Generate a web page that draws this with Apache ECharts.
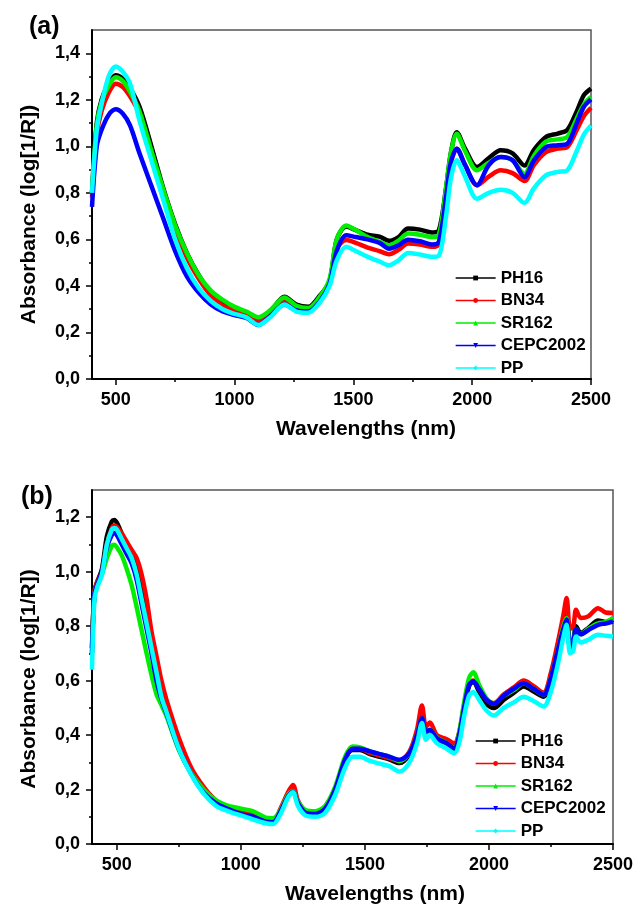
<!DOCTYPE html>
<html>
<head>
<meta charset="utf-8">
<script src="https://cdn.jsdelivr.net/npm/echarts@6/dist/echarts.min.js"></script>
<style>
html,body{margin:0;padding:0;background:#fff;}
#chart{width:644px;height:908px;}
</style>
</head>
<body>
<div id="chart"></div>
<script>
// ---------------- DATA ----------------
const SERIES_NAMES = ['PH16', 'BN34', 'SR162', 'CEPC2002', 'PP'];

// Panel (a)
const W_A = [400,420,440,470,500,530,560,600,650,700,750,800,850,900,950,1000,1050,1100,1150,1210,1260,1310,1360,1400,1430,1470,1510,1560,1610,1650,1690,1730,1780,1830,1860,1890,1910,1935,1970,2020,2070,2120,2170,2220,2260,2310,2360,2400,2440,2470,2500];
const PH16_A = [0.80,1.10,1.20,1.27,1.305,1.29,1.25,1.17,1.00,0.82,0.665,0.54,0.445,0.37,0.335,0.305,0.285,0.26,0.29,0.353,0.32,0.31,0.36,0.42,0.60,0.655,0.64,0.62,0.612,0.594,0.61,0.647,0.642,0.63,0.64,0.82,0.97,1.061,0.99,0.911,0.95,0.983,0.97,0.918,0.985,1.04,1.055,1.07,1.15,1.22,1.248];
const BN34_A = [0.78,1.05,1.15,1.23,1.269,1.255,1.215,1.14,0.97,0.80,0.645,0.52,0.43,0.36,0.315,0.295,0.28,0.248,0.28,0.335,0.305,0.295,0.345,0.42,0.56,0.597,0.585,0.565,0.55,0.536,0.555,0.582,0.578,0.568,0.58,0.78,0.93,0.99,0.92,0.833,0.87,0.897,0.885,0.851,0.92,0.975,0.99,0.997,1.07,1.13,1.166];
const SR162_A = [0.80,1.09,1.19,1.26,1.297,1.28,1.235,1.15,0.98,0.815,0.66,0.54,0.445,0.38,0.34,0.31,0.29,0.265,0.295,0.35,0.315,0.305,0.355,0.43,0.60,0.66,0.64,0.61,0.59,0.575,0.595,0.625,0.62,0.61,0.62,0.82,0.97,1.054,0.98,0.897,0.93,0.954,0.94,0.882,0.96,1.02,1.03,1.04,1.12,1.18,1.212];
const CEPC2002_A = [0.74,1.00,1.07,1.135,1.159,1.14,1.09,0.97,0.83,0.69,0.55,0.44,0.37,0.32,0.29,0.275,0.262,0.232,0.27,0.32,0.295,0.29,0.335,0.41,0.55,0.618,0.61,0.60,0.585,0.56,0.575,0.599,0.592,0.578,0.59,0.78,0.93,0.99,0.92,0.833,0.92,0.954,0.94,0.868,0.94,0.997,1.005,1.011,1.10,1.17,1.202];
const PP_A = [0.80,1.07,1.18,1.30,1.343,1.32,1.27,1.11,0.94,0.77,0.60,0.475,0.39,0.335,0.30,0.28,0.265,0.232,0.265,0.32,0.29,0.285,0.33,0.40,0.51,0.568,0.55,0.525,0.505,0.489,0.51,0.542,0.535,0.525,0.53,0.70,0.86,0.94,0.87,0.775,0.80,0.813,0.80,0.757,0.82,0.875,0.89,0.897,0.98,1.05,1.09];

// Panel (b)
const W_B = [400,410,420,440,460,480,490,500,520,540,560,580,600,620,640,660,680,700,750,800,850,900,950,1000,1050,1100,1130,1160,1190,1210,1230,1260,1300,1340,1380,1420,1450,1480,1520,1560,1600,1640,1680,1710,1730,1746,1762,1790,1830,1860,1880,1900,1920,1937,1960,1990,2020,2060,2100,2140,2180,2220,2250,2280,2300,2313,2327,2340,2351,2370,2400,2440,2470,2500];
const PH16_B = [0.72,0.93,0.96,1.01,1.13,1.185,1.19,1.18,1.14,1.10,1.06,1.01,0.93,0.84,0.76,0.66,0.57,0.51,0.37,0.27,0.20,0.155,0.13,0.115,0.105,0.085,0.082,0.12,0.175,0.195,0.15,0.115,0.11,0.13,0.20,0.31,0.345,0.345,0.33,0.32,0.31,0.297,0.33,0.40,0.462,0.41,0.418,0.385,0.37,0.35,0.40,0.50,0.58,0.597,0.56,0.515,0.499,0.53,0.555,0.578,0.56,0.541,0.60,0.71,0.79,0.846,0.73,0.75,0.80,0.775,0.793,0.821,0.815,0.824];
const BN34_B = [0.72,0.93,0.96,1.00,1.10,1.16,1.17,1.165,1.14,1.11,1.08,1.05,0.99,0.90,0.78,0.69,0.60,0.53,0.39,0.28,0.21,0.16,0.135,0.12,0.11,0.09,0.085,0.13,0.19,0.217,0.16,0.12,0.112,0.13,0.20,0.31,0.35,0.35,0.335,0.325,0.315,0.305,0.34,0.42,0.509,0.43,0.446,0.40,0.385,0.37,0.41,0.51,0.59,0.60,0.57,0.53,0.517,0.55,0.575,0.60,0.58,0.556,0.63,0.75,0.84,0.903,0.79,0.80,0.86,0.83,0.836,0.866,0.85,0.848];
const SR162_B = [0.70,0.92,0.95,0.99,1.05,1.095,1.099,1.09,1.06,1.01,0.95,0.87,0.785,0.70,0.62,0.55,0.51,0.47,0.345,0.26,0.20,0.16,0.14,0.13,0.12,0.097,0.095,0.125,0.18,0.195,0.155,0.125,0.12,0.14,0.21,0.32,0.358,0.355,0.34,0.33,0.32,0.305,0.335,0.40,0.46,0.41,0.42,0.39,0.37,0.35,0.41,0.52,0.61,0.631,0.585,0.535,0.517,0.545,0.565,0.59,0.57,0.548,0.61,0.72,0.80,0.83,0.72,0.74,0.79,0.77,0.79,0.81,0.815,0.83];
const CEPC2002_B = [0.70,0.92,0.95,1.00,1.09,1.135,1.142,1.135,1.10,1.065,1.03,0.97,0.88,0.79,0.70,0.60,0.532,0.48,0.35,0.257,0.188,0.149,0.128,0.11,0.10,0.082,0.08,0.12,0.175,0.192,0.15,0.115,0.11,0.13,0.20,0.31,0.35,0.35,0.34,0.33,0.32,0.309,0.335,0.40,0.462,0.413,0.419,0.388,0.37,0.351,0.40,0.50,0.585,0.597,0.57,0.53,0.515,0.545,0.57,0.59,0.57,0.548,0.61,0.72,0.79,0.824,0.72,0.74,0.79,0.77,0.785,0.805,0.81,0.817];
const PP_B = [0.64,0.90,0.94,0.99,1.10,1.155,1.16,1.155,1.12,1.085,1.05,0.99,0.90,0.81,0.72,0.63,0.54,0.485,0.35,0.255,0.185,0.14,0.12,0.105,0.09,0.076,0.073,0.11,0.17,0.19,0.14,0.105,0.10,0.115,0.18,0.28,0.32,0.32,0.305,0.295,0.285,0.266,0.30,0.37,0.444,0.382,0.40,0.37,0.35,0.333,0.37,0.47,0.545,0.558,0.53,0.49,0.472,0.50,0.52,0.541,0.525,0.505,0.56,0.67,0.76,0.805,0.70,0.71,0.762,0.74,0.75,0.768,0.765,0.762];

// Tick values
const X_TICKS = [500, 1000, 1500, 2000, 2500];
const X_MINOR = [750, 1250, 1750, 2250];
const Y_TICKS_A = [0, 0.2, 0.4, 0.6, 0.8, 1.0, 1.2, 1.4];
const Y_MINOR_A = [0.1, 0.3, 0.5, 0.7, 0.9, 1.1, 1.3];
const Y_TICKS_B = [0, 0.2, 0.4, 0.6, 0.8, 1.0, 1.2];
const Y_MINOR_B = [0.1, 0.3, 0.5, 0.7, 0.9, 1.1];

// ---------------- STYLE ----------------
const COLORS = ['#000000', '#ff0000', '#00ee00', '#0000ff', '#00ffff'];
const SYMBOLS = ['rect', 'circle', 'triangle', 'triangle', 'diamond'];
const ROTS = [0, 0, 0, 180, 0];
const FONT = '"Liberation Sans", Arial, sans-serif';

const DATA_A = [PH16_A, BN34_A, SR162_A, CEPC2002_A, PP_A];
const DATA_B = [PH16_B, BN34_B, SR162_B, CEPC2002_B, PP_B];

const fmtY = v => Number(v).toFixed(1).replace('.', ',');
const fmtX = v => String(Math.round(v));

function xAxes(grid, nameShift) {
  return [
    {
      gridIndex: grid, type: 'value', min: 400, max: 2500,
      name: 'Wavelengths (nm)', nameLocation: 'middle', nameGap: 40,
      nameTextStyle: {fontFamily: FONT, fontWeight: 'bold', fontSize: 21, color: '#000', padding: [0, 0, 0, nameShift]},
      axisLine: {show: true, lineStyle: {color: '#000', width: 2}},
      axisTick: {show: true, inside: false, length: 6, lineStyle: {color: '#000', width: 1.5}, customValues: X_TICKS},
      axisLabel: {show: true, margin: 12, fontFamily: FONT, fontWeight: 'bold', fontSize: 18, color: '#000', formatter: fmtX, customValues: X_TICKS},
      splitLine: {show: false}
    },
    {
      gridIndex: grid, type: 'value', min: 400, max: 2500, position: 'bottom',
      axisLine: {show: false},
      axisTick: {show: true, inside: false, length: 3, lineStyle: {color: '#000', width: 1.5}, customValues: X_MINOR},
      axisLabel: {show: false},
      splitLine: {show: false}
    }
  ];
}

function yAxes(grid, max, ticks, minor, pad) {
  return [
    {
      gridIndex: grid, type: 'value', min: 0, max: max,
      name: 'Absorbance (log[1/R])', nameLocation: 'middle', nameGap: 52,
      nameTextStyle: {fontFamily: FONT, fontWeight: 'bold', fontSize: 21, color: '#000', padding: [0, pad, 0, 0]},
      axisLine: {show: true, lineStyle: {color: '#000', width: 2}},
      axisTick: {show: true, inside: false, length: 6, lineStyle: {color: '#000', width: 1.5}, customValues: ticks},
      axisLabel: {show: true, margin: 12, fontFamily: FONT, fontWeight: 'bold', fontSize: 18, color: '#000', formatter: fmtY, customValues: ticks},
      splitLine: {show: false}
    },
    {
      gridIndex: grid, type: 'value', min: 0, max: max, position: 'left',
      axisLine: {show: false},
      axisTick: {show: true, inside: false, length: 3, lineStyle: {color: '#000', width: 1.5}, customValues: minor},
      axisLabel: {show: false},
      splitLine: {show: false}
    }
  ];
}

const series = [];
[[W_A, DATA_A, 0], [W_B, DATA_B, 2]].forEach(([W, D, ax]) => {
  SERIES_NAMES.forEach((name, k) => {
    series.push({
      type: 'line', name: name,
      xAxisIndex: ax, yAxisIndex: ax,
      data: W.map((w, i) => [w, D[k][i]]),
      symbol: SYMBOLS[k], symbolRotate: ROTS[k], showSymbol: false,
      smooth: 0.3,
      color: COLORS[k],
      lineStyle: {color: COLORS[k], width: 4.5},
      itemStyle: {color: COLORS[k]},
      emphasis: {disabled: true},
      z: 2 + k
    });
  });
});

function legend(left, top) {
  return {
    data: SERIES_NAMES, orient: 'vertical', left: left, top: top,
    itemWidth: 40, itemHeight: 6, itemGap: 4.5,
    lineStyle: {width: 1.3},
    textStyle: {fontFamily: FONT, fontWeight: 'bold', fontSize: 17, color: '#000', lineHeight: 18},
    selectedMode: false
  };
}

const option = {
  animation: false,
  backgroundColor: '#fff',
  title: [
    {text: '(a)', left: 24, top: 10, textStyle: {fontFamily: FONT, fontWeight: 'bold', fontSize: 25, color: '#000'}},
    {text: '(b)', left: 16, top: 480, textStyle: {fontFamily: FONT, fontWeight: 'bold', fontSize: 25, color: '#000'}}
  ],
  grid: [
    {left: 92, top: 30, right: 53, bottom: 529, show: true, borderColor: '#555', borderWidth: 1.5, backgroundColor: 'transparent'},
    {left: 92, top: 490, right: 31, bottom: 64, show: true, borderColor: '#555', borderWidth: 1.5, backgroundColor: 'transparent'}
  ],
  xAxis: [...xAxes(0, 49), ...xAxes(1, 45)],
  yAxis: [...yAxes(0, 1.5, Y_TICKS_A, Y_MINOR_A, 20), ...yAxes(1, 1.3, Y_TICKS_B, Y_MINOR_B, 24)],
  legend: [legend(450, 264), legend(470, 727)],
  series: series
};

const chart = echarts.init(document.getElementById('chart'), null, {renderer: 'canvas'});
chart.setOption(option);
</script>
</body>
</html>
